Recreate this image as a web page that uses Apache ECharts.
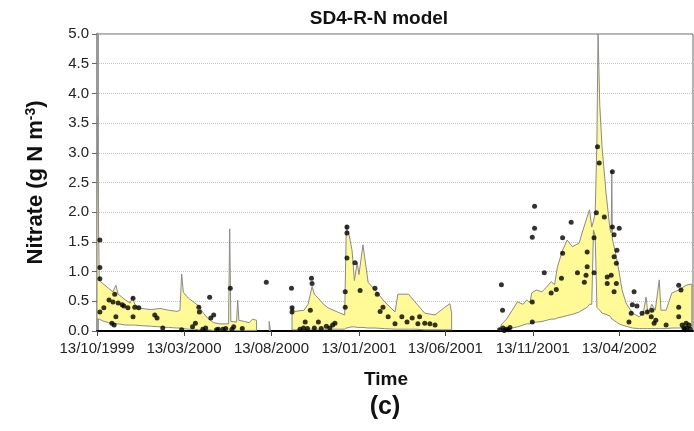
<!DOCTYPE html>
<html>
<head>
<meta charset="utf-8">
<script src="https://cdn.jsdelivr.net/npm/echarts@6/dist/echarts.min.js"></script>
<style>
html,body{margin:0;padding:0;background:#fff;}
#chart{width:694px;height:431px;}
</style>
</head>
<body>
<div id="chart"></div>
<script>
// ---- data (x = days counted from 13/10/1999) ----
const startDate = '1999-10-13';
const axisEndDay = 1042;
const tickLabels = ['13/10/1999','13/03/2000','13/08/2000','13/01/2001','13/06/2001','13/11/2001','13/04/2002'];

// model band (lower / upper bound), segment by segment
const seg1Days = [0,4,10,20,28,33,37,50,58,62,66,77,95,110,125,140,145,148,151,160,170,178,186,193,204,215,230,232,234,244,246,248,258,266,272,279];
const seg1Low  = [0.2,0.2,0.17,0.14,0.12,0.12,0.12,0.1,0.1,0.1,0.1,0.09,0.08,0.07,0.06,0.05,0.05,0.04,0.04,0.03,0.03,0.02,0.02,0.02,0.01,0.01,0.01,0.01,0.01,0.01,0.01,0.01,0.01,0.01,0.01,0.01];
const seg1High = [3.6,0.85,0.8,0.72,0.66,0.77,0.62,0.52,0.47,0.57,0.45,0.38,0.36,0.38,0.35,0.33,0.35,0.96,0.65,0.55,0.48,0.42,0.3,0.22,0.14,0.12,0.12,1.72,0.16,0.15,0.52,0.18,0.16,0.14,0.2,0.18];

const seg2Days = [301,303];
const seg2Low  = [0.01,0.01];
const seg2High = [0.16,0.03];

const seg3Days = [341,346,362,369,376,380,387,396,404,418,433,436,441,446,450,455,458,465,474,486,503,521,526,545,548,556,573,591,608,617,620];
const seg3Low  = [0.02,0.02,0.02,0.03,0.03,0.03,0.03,0.03,0.03,0.03,0.03,0.05,0.06,0.07,0.07,0.06,0.06,0.06,0.05,0.05,0.04,0.03,0.03,0.03,0.03,0.03,0.02,0.02,0.02,0.02,0.02];
const seg3High = [0.4,0.33,0.35,0.45,0.75,0.62,0.55,0.45,0.39,0.33,0.27,1.78,1.6,1.35,0.85,1.15,0.95,1.45,0.82,0.69,0.49,0.32,0.62,0.62,0.58,0.49,0.3,0.27,0.4,0.46,0.3];

const seg4Days = [703,708,716,726,735,745,751,757,760,768,778,786,794,800,805,814,822,831,843,848,857,861,865,868,871,874,876,879,883,890,897,899,900,901,908,913,918,925,936,948,955,960,963,970,976,983,986,995,1005,1017,1030,1040];
const seg4Low  = [0,0,0.02,0.05,0.07,0.1,0.12,0.12,0.14,0.15,0.16,0.18,0.2,0.2,0.22,0.24,0.26,0.28,0.32,0.35,0.4,0.45,0.45,1.7,1.6,0.4,0.38,0.35,0.3,0.28,0.25,0.22,0.2,0.2,0.15,0.12,0.1,0.08,0.05,0.04,0.04,0.04,0.04,0.04,0.04,0.04,0.04,0.04,0.05,0.05,0.06,0.06];
const seg4High = [0.02,0.12,0.2,0.35,0.49,0.45,0.52,0.48,0.64,0.69,0.66,0.74,0.83,0.78,1.08,1.36,1.53,1.42,1.48,1.65,1.92,2.04,1.75,1.85,1.99,3.2,5.0,3.8,3.1,2.32,1.7,1.65,2.7,1.55,1.25,0.98,0.69,0.47,0.3,0.24,0.3,0.57,0.3,0.45,0.35,0.86,0.35,0.35,0.64,0.69,0.77,0.79];

// observations
const obsDays = [5,5,5,5,12,21,26,28,31,33,30,37,44,47,54,63,63,66,73,101,105,115,148,167,172,178,179,185,190,197,204,199,209,212,220,225,233,236,239,254,296,340,341,341,
  355,361,364,368,373,375,376,380,387,392,401,407,412,416,434,434,437,437,437,451,460,486,490,500,495,509,521,533,542,551,564,561,573,582,591,
  704,707,709,710,712,716,719,722,761,761,761,765,765,782,794,803,812,814,814,829,840,852,855,857,857,869,869,873,875,878,887,892,892,899,901,901,904,904,904,908,908,909,913,
  930,934,936,939,944,953,962,970,969,977,974,995,1017,1017,1017,1021,1023,1030,1026,1028,1031,1035,1037];
const obsValues = [1.53,1.07,0.88,0.32,0.39,0.52,0.13,0.49,0.62,0.24,0.1,0.47,0.44,0.42,0.39,0.55,0.24,0.4,0.39,0.27,0.22,0.05,0.02,0.07,0.13,0.4,0.32,0.03,0.05,0.57,0.27,0.22,0.02,0.03,0.03,0.04,0.72,0.03,0.07,0.04,0.82,0.72,0.39,0.32,
  0.03,0.05,0.15,0.04,0.35,0.89,0.8,0.05,0.15,0.04,0.08,0.05,0.1,0.13,0.66,0.4,1.23,1.65,1.75,1.15,0.68,0.72,0.62,0.4,0.33,0.24,0.12,0.24,0.15,0.22,0.24,0.12,0.13,0.12,0.1,
  0.02,0.78,0.35,0.05,0.01,0.03,0.02,0.06,1.58,0.49,0.15,2.1,1.73,0.98,0.64,0.7,0.89,1.57,1.31,1.83,0.98,0.82,0.94,1.33,1.08,0.98,1.57,1.99,3.1,2.83,1.92,0.91,0.8,0.94,2.68,1.75,1.62,1.25,0.66,1.14,0.8,1.36,1.73,
  0.15,0.3,0.44,0.66,0.42,0.3,0.32,0.35,0.24,0.18,0.13,0.1,0.77,0.4,0.24,0.69,0.1,0.13,0.05,0.02,0.05,0.1,0.03];

// ---- build ----
const DAY = 86400000;
const t0 = Date.parse(startDate + 'T00:00:00Z');
function parseLabel(s){ const p = s.split('/'); return Date.UTC(+p[2], +p[1]-1, +p[0]); }
const tickDays = tickLabels.map(s => Math.round((parseLabel(s) - t0) / DAY));

const segments = [
  {days: seg1Days, low: seg1Low, high: seg1High},
  {days: seg2Days, low: seg2Low, high: seg2High},
  {days: seg3Days, low: seg3Low, high: seg3High},
  {days: seg4Days, low: seg4Low, high: seg4High}
];
const bandItems = segments.map((s, k) => [s.days[0], 0, k]);
const obsData = obsDays.map((d, i) => [d, obsValues[i]]);

function renderBand(params, api) {
  const s = segments[params.dataIndex];
  const pts = [];
  for (let i = 0; i < s.days.length; i++) pts.push(api.coord([s.days[i], s.high[i]]));
  for (let i = s.days.length - 1; i >= 0; i--) pts.push(api.coord([s.days[i], s.low[i]]));
  return {
    type: 'polygon',
    shape: {points: pts},
    style: {fill: '#FFFA96', stroke: '#8a8a8a', lineWidth: 1}
  };
}

function dayLabel(v) {
  let best = -1, bd = Infinity;
  tickDays.forEach((t, i) => { const dd = Math.abs(t - v); if (dd < bd) { bd = dd; best = i; } });
  return bd < 1 ? tickLabels[best] : '';
}

const FONT = 'Liberation Sans, Arial, sans-serif';
const chart = echarts.init(document.getElementById('chart'), null, {renderer: 'canvas'});
chart.setOption({
  animation: false,
  backgroundColor: '#fff',
  title: [
    {text: 'SD4-R-N model', left: 379, top: 9, textAlign: 'center', padding: 0,
     textStyle: {fontFamily: FONT, fontSize: 19, fontWeight: 'bold', color: '#111'}},
    {text: '(c)', left: 385, top: 395, textAlign: 'center', padding: 0,
     textStyle: {fontFamily: FONT, fontSize: 25, fontWeight: 'bold', color: '#111'}}
  ],
  grid: {left: 97, right: 1, top: 34, bottom: 100, show: true, borderColor: '#666', borderWidth: 1, backgroundColor: 'transparent'},
  xAxis: {
    type: 'value',
    min: 0, max: axisEndDay,
    name: 'Time', nameLocation: 'middle', nameGap: 39,
    nameTextStyle: {fontFamily: FONT, fontSize: 19, fontWeight: 'bold', color: '#111', padding: [0, 18, 0, 0]},
    axisLine: {show: true, onZero: false, lineStyle: {color: '#000', width: 2}},
    axisTick: {show: true, customValues: tickDays, length: 5, lineStyle: {color: '#444'}},
    axisLabel: {customValues: tickDays, margin: 10, color: '#222', fontFamily: FONT, fontSize: 15, formatter: dayLabel},
    splitLine: {show: false}
  },
  yAxis: {
    type: 'value', min: 0, max: 5, interval: 0.5,
    name: 'Nitrate (g N m{sup|-3})', nameLocation: 'middle', nameGap: 49, nameRotate: 90,
    nameTextStyle: {fontFamily: FONT, fontSize: 22, fontWeight: 'bold', color: '#111',
      rich: {sup: {fontFamily: FONT, fontSize: 14, fontWeight: 'bold', color: '#111', verticalAlign: 'top', padding: [0, 0, 10, 0]}}},
    axisLine: {show: true, lineStyle: {color: '#9a9a9a', width: 3}},
    axisTick: {show: true, length: 5, lineStyle: {color: '#666'}},
    axisLabel: {margin: 8, color: '#222', fontFamily: FONT, fontSize: 15, formatter: v => v.toFixed(1)},
    splitLine: {show: true, lineStyle: {color: '#c4c4c4', type: 'dotted', width: 1}}
  },
  series: [
    {name: 'model', type: 'custom', data: bandItems, encode: {x: 0, y: 1}, renderItem: renderBand, clip: true, z: 2, silent: true},
    {name: 'obs', type: 'scatter', data: obsData, symbol: 'circle', symbolSize: 5,
     itemStyle: {color: '#000'}, z: 5}
  ]
});
</script>
</body>
</html>
